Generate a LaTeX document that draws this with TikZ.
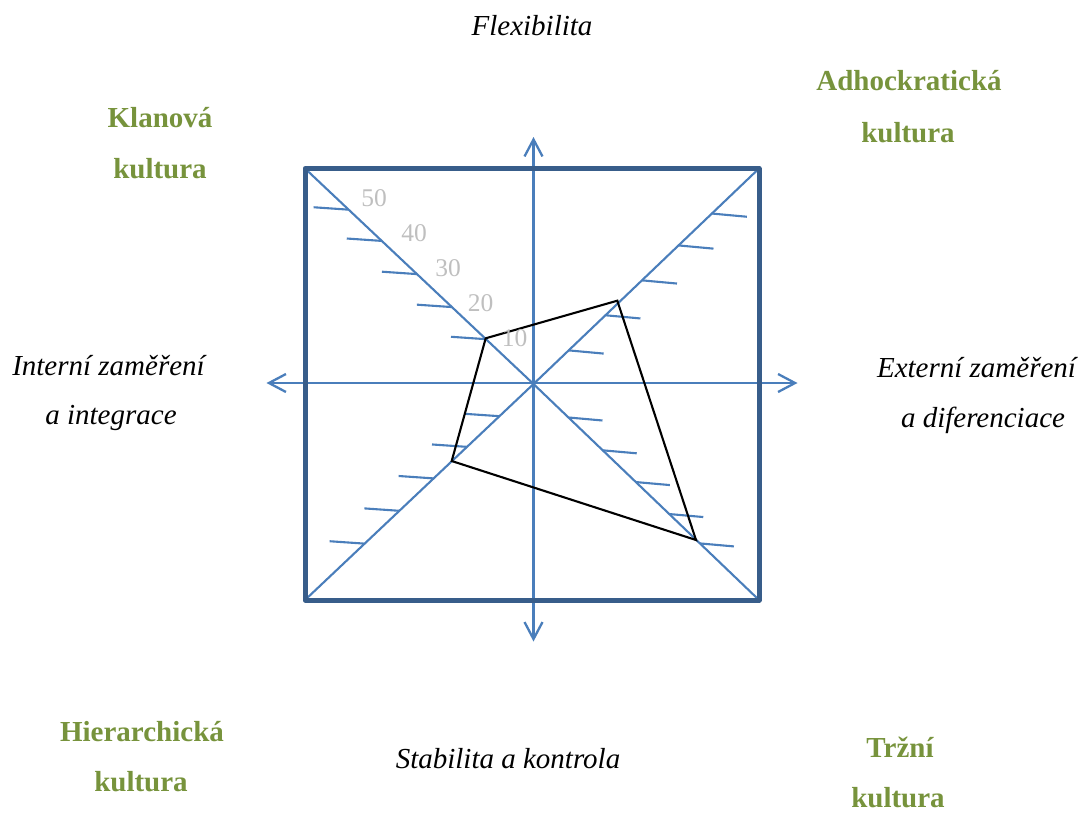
\documentclass[tikz,border=0pt]{standalone}
\usepackage{fontspec}
\setmainfont{Liberation Serif}
\usetikzlibrary{arrows.meta,calc}
\definecolor{axisblue}{RGB}{74,126,187}
\definecolor{frameblue}{RGB}{56,93,138}
\definecolor{olivegreen}{RGB}{119,147,60}
\definecolor{numgray}{RGB}{191,191,191}
\tikzset{
  lbl/.style={inner sep=0pt,anchor=base,font=\fontsize{29}{34}\selectfont\itshape},
  culture/.style={inner sep=0pt,anchor=base,text=olivegreen,font=\fontsize{29}{34}\selectfont\bfseries},
  num/.style={inner sep=0pt,anchor=base,text=numgray,font=\fontsize{25.5}{30}\selectfont},
  axisline/.style={draw=axisblue,line width=2.3pt,{Straight Barb[length=17pt,width=18pt]}-{Straight Barb[length=17pt,width=18pt]}},
  diag/.style={draw=axisblue,line width=2.1pt},
  tickln/.style={draw=axisblue,line width=2.1pt},
  frame/.style={draw=frameblue,line width=5pt,line join=round},
  poly/.style={draw=black,line width=2.1pt,line join=miter}
}
\begin{document}
\begin{tikzpicture}[x=1pt,y=-1pt]
\useasboundingbox (0,0) rectangle (1083,814);
% key points
\coordinate (ctr) at (533.5,384);
\coordinate (cTL) at (305,168.5);
\coordinate (cTR) at (759,168.5);
\coordinate (cBR) at (759,600);
\coordinate (cBL) at (305,600);
\coordinate (axT) at (533.5,137);
\coordinate (axB) at (533.5,641.5);
\coordinate (axL) at (266.5,383);
\coordinate (axR) at (797.5,383);
% diagonals
\draw[diag] (cTL) -- (ctr);
\draw[diag] (cTR) -- (ctr);
\draw[diag] (cBR) -- (ctr);
\draw[diag] (cBL) -- (ctr);
% ticks
\foreach \f in {0.208,0.357,0.51,0.664,0.809}
  \draw[tickln] ($(ctr)!\f!(cTL)$) -- ++(-35,-2.4);
\foreach \f in {0.156,0.319,0.481,0.643,0.791}
  \draw[tickln] ($(ctr)!\f!(cTR)$) -- ++(35,3.2);
\foreach \f in {0.149,0.291,0.437,0.587,0.739}
  \draw[tickln] ($(ctr)!\f!(cBL)$) -- ++(-35,-2.4);
\foreach \f in {0.155,0.307,0.454,0.602,0.738}
  \draw[tickln] ($(ctr)!\f!(cBR)$) -- ++(34,3);
% axes
\draw[axisline] (axB) -- (axT);
\draw[axisline] (axL) -- (axR);
% frame
\draw[frame] (cTL) rectangle (cBR);
% polygon
\coordinate (pTL) at (485.7,338.3);
\coordinate (pTR) at (617.3,300.7);
\coordinate (pBR) at (696,540);
\coordinate (pBL) at (451.7,461);
\draw[poly] (pTL) -- (pTR) -- (pBR) -- (pBL) -- cycle;
% scale numbers
\node[num] (n50) at (374,206) {50};
\node[num] (n40) at (414,241) {40};
\node[num] (n30) at (448,276.5) {30};
\node[num] (n20) at (480.7,311.5) {20};
\node[num] (n10) at (514.7,346.5) {10};
% axis labels
\node[lbl] (flex) at (532,35) {Flexibilita};
\node[lbl] (stab) at (508,768) {Stabilita a kontrola};
\node[lbl] (int1) at (108.5,375) {Interní zaměření};
\node[lbl] (int2) at (111,424.5) {a integrace};
\node[lbl] (ext1) at (976.5,377) {Externí zaměření};
\node[lbl] (ext2) at (983,427) {a diferenciace};
% culture labels
\node[culture] (kl1) at (160,127.5) {Klanová};
\node[culture] (kl2) at (160,178) {kultura};
\node[culture] (ad1) at (909,90.5) {Adhockratická};
\node[culture] (ad2) at (908,142.5) {kultura};
\node[culture] (hi1) at (142,741) {Hierarchická};
\node[culture] (hi2) at (141,791) {kultura};
\node[culture] (tr1) at (900,757) {Tržní};
\node[culture] (tr2) at (898,807.5) {kultura};
\end{tikzpicture}
\end{document}
